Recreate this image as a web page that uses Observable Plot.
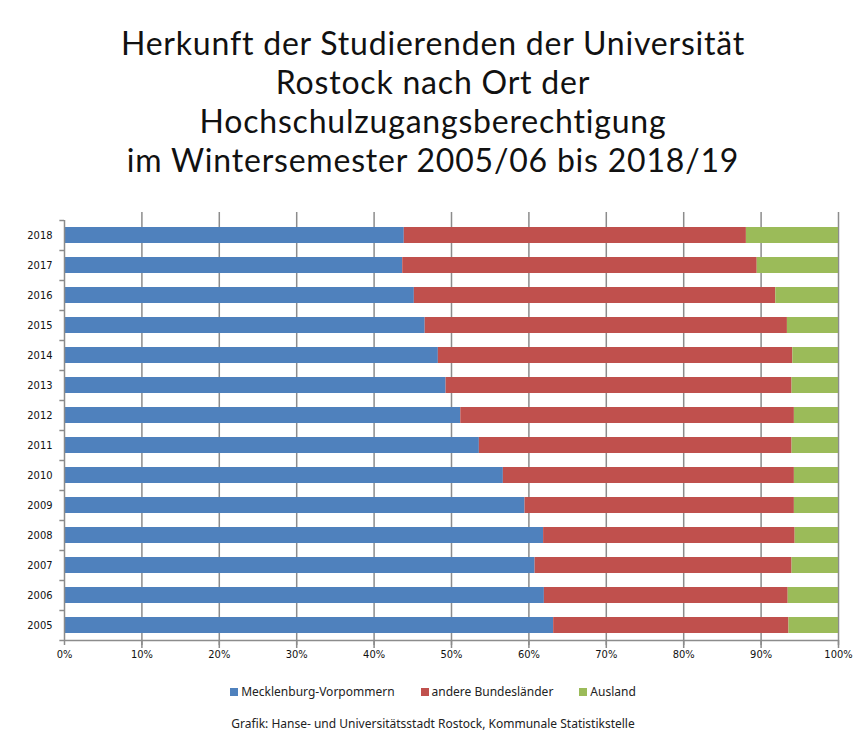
<!DOCTYPE html>
<html><head><meta charset="utf-8">
<script src="https://cdn.jsdelivr.net/npm/d3@7"></script>
<script src="https://cdn.jsdelivr.net/npm/@observablehq/plot@0.6"></script>
<style>
body{margin:0;background:#fff;}
#wrap{width:866px;font-family:"Noto Sans",sans-serif;}
#title{height:200px;box-sizing:border-box;padding-top:23px;text-align:center;font-family:Lato,"Noto Sans",sans-serif;font-size:32px;letter-spacing:0.8px;line-height:39px;color:#111;}
#title div{height:39px;}
#legend{display:flex;justify-content:center;gap:26px;font-size:12px;color:#222;margin-top:12px;height:18px;align-items:center;}
#legend span.sw{display:inline-block;width:8px;height:8px;margin-right:3px;vertical-align:middle;}
#caption{text-align:center;font-size:12px;color:#222;margin-top:15px;}
</style></head><body>
<div id="wrap">
<div id="title"><div>Herkunft der Studierenden der Universität</div><div>Rostock nach Ort der</div><div>Hochschulzugangsberechtigung</div><div>im Wintersemester 2005/06 bis 2018/19</div></div>
<div id="chart"></div>
<div id="legend"></div>
<div id="caption">Grafik: Hanse- und Universitätsstadt Rostock, Kommunale Statistikstelle</div>
</div>
<script>
const years = [2018,2017,2016,2015,2014,2013,2012,2011,2010,2009,2008,2007,2006,2005];
const mv    = [43.9,43.7,45.2,46.6,48.3,49.3,51.2,53.6,56.7,59.5,61.9,60.8,62.0,63.2];
const andere= [44.2,45.8,46.7,46.8,45.8,44.7,43.1,40.4,37.6,34.8,32.5,33.2,31.5,30.4];
const ausland = years.map((y,i)=>+(100-mv[i]-andere[i]).toFixed(1));
const series = ["Mecklenburg-Vorpommern","andere Bundesländer","Ausland"];
const colors = ["#4f81bd","#c0504d","#9bbb59"];
const xTicks = [0,10,20,30,40,50,60,70,80,90,100];

const data = [];
years.forEach((y,i)=>{
  data.push({year:y, series:series[0], value:mv[i]});
  data.push({year:y, series:series[1], value:andere[i]});
  data.push({year:y, series:series[2], value:ausland[i]});
});

const axisFont = '"Liberation Sans Narrow","DejaVu Sans Condensed",sans-serif';
const chart = Plot.plot({
  width:866, height:470,
  marginLeft:64, marginRight:28, marginTop:20, marginBottom:30,
  style:{fontFamily:axisFont, fontSize:"11px", color:"#111", background:"#fff"},
  x:{domain:[0,100], axis:null, label:null},
  y:{domain:years, paddingInner:0.46, paddingOuter:0.23, axis:null, label:null},
  color:{domain:series, range:colors},
  marks:[
    Plot.ruleX(xTicks.slice(1), {y1:()=>years[0], y2:()=>years[years.length-1], stroke:"#8c8c8c", strokeWidth:1.5, insetTop:-15, insetBottom:-15}),
    Plot.barX(data, Plot.stackX({y:"year", x:"value", fill:"series", order:series})),
    Plot.ruleX([0], {stroke:"#8c8c8c", strokeWidth:1.5}),
    Plot.ruleY([years[years.length-1]], {x1:0, x2:100, dy:15, stroke:"#8c8c8c", strokeWidth:1.5}),
    Plot.ruleY(years, {x1:-0.6, x2:0, dy:-15, stroke:"#8c8c8c", strokeWidth:1.5}),
    Plot.ruleY([years[years.length-1]], {x1:-0.6, x2:0, dy:15, stroke:"#8c8c8c", strokeWidth:1.5}),
    Plot.axisX({ticks:xTicks, tickFormat:d=>d+"%", tickSize:5, stroke:"#8c8c8c", strokeWidth:1.5, tickPadding:5, fontSize:11, fill:"#111", label:null}),
    Plot.axisY({tickSize:0, tickPadding:12, fontSize:11, fill:"#111", tickFormat:d=>String(d), label:null})
  ]
});
document.getElementById("chart").appendChild(chart);

const lg = document.getElementById("legend");
series.forEach((s,i)=>{
  const d = document.createElement("div");
  d.innerHTML = `<span class="sw" style="background:${colors[i]}"></span>${s}`;
  lg.appendChild(d);
});
</script>
</body></html>
